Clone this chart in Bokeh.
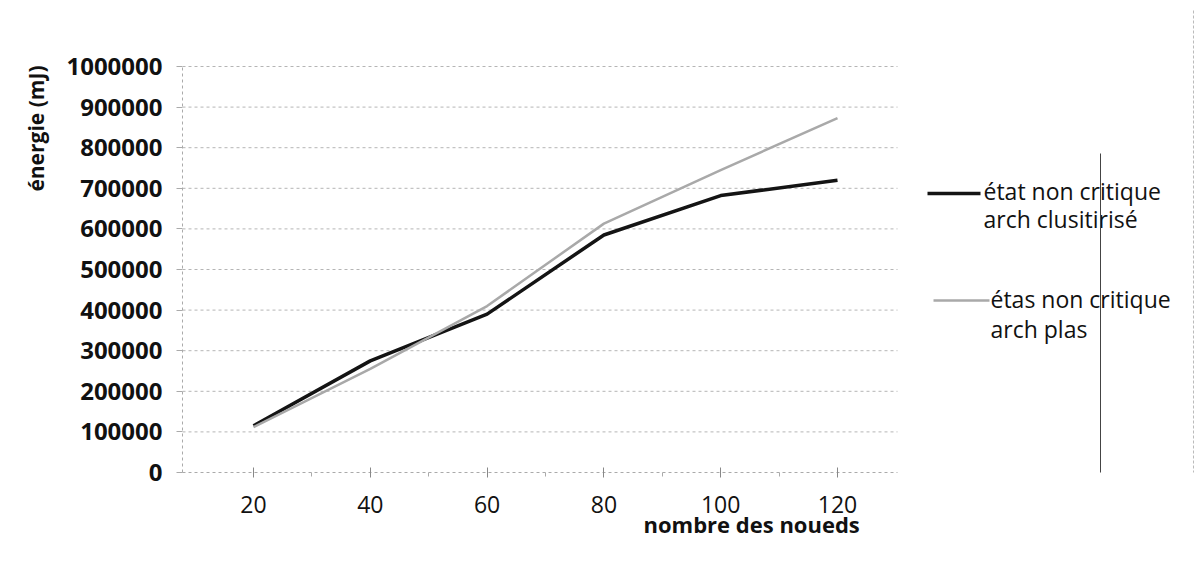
import math
from bokeh.plotting import figure
from bokeh.models import Range1d, FixedTicker, Title
from bokeh.core.properties import value
from bokeh.embed import file_html
from bokeh.resources import INLINE

# ---------------- data ----------------
categories = [20, 40, 60, 80, 100, 120]
serie_clusterise = [115000, 275000, 390000, 585000, 682000, 720000]
serie_plas = [112000, 255000, 410000, 613000, 745000, 873000]
y_ticks = [0, 100000, 200000, 300000, 400000, 500000, 600000, 700000, 800000, 900000, 1000000]
y_tick_labels = ["0", "100000", "200000", "300000", "400000", "500000",
                 "600000", "700000", "800000", "900000", "1000000"]
x_tick_labels = ["20", "40", "60", "80", "100", "120"]
legend_lines_1 = ["état non critique", "arch clusitirisé"]
legend_lines_2 = ["étas non critique", "arch plas"]
x_title = "nombre des noueds"
y_title = "énergie (mJ)"

# ---------------- layout geometry (pixels) ----------------
W, H = 1204, 567
XL = 182                   # frame left (plot area left)
XR_PLOT = 897              # right end of the plot area
Y0_PX, Y1M_PX = 472, 66    # pixel rows of 0 and 1 000 000
first_px, last_px = 253, 837
scale_x = (last_px - first_px) / (categories[-1] - categories[0])
XMIN = categories[0] - (first_px - XL) / scale_x
XMAX = categories[0] + (W - first_px) / scale_x
YMIN = y_ticks[0]
scale_y = (Y0_PX - Y1M_PX) / (y_ticks[-1] - y_ticks[0])
YMAX = YMIN + Y0_PX / scale_y          # frame top at canvas top


def dx(px):
    return XMIN + (px - XL) / scale_x


def dy(py):
    return YMIN + (Y0_PX - py) / scale_y


FONT = "Open Sans"

p = figure(width=W, height=H, output_backend="svg", toolbar_location=None, title=None,
           x_range=Range1d(XMIN, XMAX), y_range=Range1d(YMIN, YMAX),
           min_border_left=XL, min_border_right=0,
           min_border_top=0, min_border_bottom=H - Y0_PX)
p.outline_line_color = None
p.background_fill_color = "white"
p.border_fill_color = "white"
p.xgrid.grid_line_color = None
p.ygrid.grid_line_color = None

# horizontal gridlines of the plot area
plot_right = dx(XR_PLOT)
p.segment(x0=[XMIN] * len(y_ticks[1:]), x1=[plot_right] * len(y_ticks[1:]),
          y0=y_ticks[1:], y1=y_ticks[1:],
          line_color="#b5b5b5", line_dash="3 3", line_width=1)

# y axis
p.yaxis.ticker = FixedTicker(ticks=y_ticks)
p.yaxis.bounds = (y_ticks[0], y_ticks[-1])
p.yaxis.major_label_overrides = {t: l for t, l in zip(y_ticks, y_tick_labels)}
p.yaxis.major_label_text_font = FONT
p.yaxis.major_label_text_font_style = "bold"
p.yaxis.major_label_text_font_size = "24px"
p.yaxis.major_label_text_color = "#111111"
p.yaxis.major_label_standoff = 14
p.yaxis.axis_line_color = "#aaaaaa"
p.yaxis.axis_line_dash = "3 3"
p.yaxis.major_tick_line_color = "#aaaaaa"
p.yaxis.major_tick_out = 6
p.yaxis.major_tick_in = 0
p.yaxis.minor_tick_line_color = None

# x axis
mid_ticks = [(a + b) / 2 for a, b in zip(categories[:-1], categories[1:])]
p.xaxis.ticker = FixedTicker(ticks=categories, minor_ticks=mid_ticks)
p.xaxis.bounds = (XMIN, plot_right)
p.xaxis.major_label_overrides = {c: l for c, l in zip(categories, x_tick_labels)}
p.xaxis.major_label_text_font = FONT
p.xaxis.major_label_text_font_size = "23px"
p.xaxis.major_label_text_color = "#111111"
p.xaxis.major_label_standoff = 18
p.xaxis.axis_line_color = "#aaaaaa"
p.xaxis.axis_line_dash = "3 3"
p.xaxis.major_tick_line_color = "#888888"
p.xaxis.major_tick_out = 5
p.xaxis.major_tick_in = 5
p.xaxis.minor_tick_line_color = "#aaaaaa"
p.xaxis.minor_tick_out = 4
p.xaxis.minor_tick_in = 0

# series
p.line(categories, serie_clusterise, line_color="#141414", line_width=3.5)
p.line(categories, serie_plas, line_color="#a9a9a9", line_width=2.5)

# axis titles (side panels)
p.add_layout(Title(text=y_title, align="right", offset=65, vertical_align="top", standoff=24,
                   text_font=FONT, text_font_style="bold", text_font_size="21px",
                   text_color="#111111"), "left")
p.add_layout(Title(text=x_title, align="left", offset=643 - XL, vertical_align="top", standoff=-14,
                   text_font=FONT, text_font_style="bold", text_font_size="22px",
                   text_color="#111111"), "below")

# legend, drawn at the right of the plot area
p.line([dx(927), dx(980)], [dy(193), dy(193)], line_color="#141414", line_width=3.5)
p.line([dx(933), dx(989)], [dy(300), dy(300)], line_color="#a9a9a9", line_width=2.5)
p.text(x=[dx(983)] * 2, y=[dy(190), dy(218)], text=legend_lines_1,
       text_align="left", text_baseline="middle", text_font=value(FONT),
       text_font_size="23px", text_color="#111111")
p.text(x=[dx(990)] * 2, y=[dy(298), dy(328)], text=legend_lines_2,
       text_align="left", text_baseline="middle", text_font=value(FONT),
       text_font_size="23px", text_color="#111111")

# scan marks at the right side
p.line([dx(1193), dx(1193)], [dy(10), dy(567)], line_color="#bbbbbb", line_width=1, line_dash="3 2")
p.line([dx(1100), dx(1100)], [dy(153), dy(567)], line_color="#444444", line_width=1)

open("out.html", "w").write(file_html(p, INLINE))
